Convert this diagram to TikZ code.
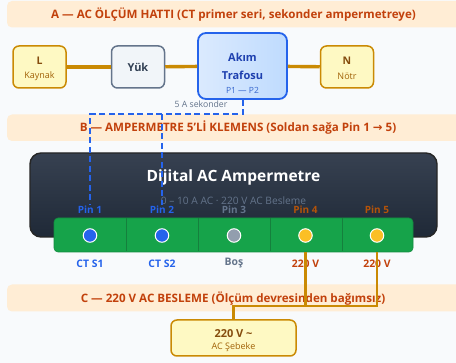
\documentclass[tikz,border=0pt]{standalone}
\usepackage{fontspec}
\setmainfont{Open Sans}
\newfontfamily\symfont{DejaVu Sans}
\definecolor{bgc}{HTML}{F8FAFC}
\definecolor{band}{HTML}{FFEDD5}
\definecolor{bandt}{HTML}{C2410C}
\definecolor{gold}{HTML}{CA8A04}
\definecolor{yfill}{HTML}{FEF9C3}
\definecolor{ytext}{HTML}{854D0E}
\definecolor{ysub}{HTML}{A16207}
\definecolor{blu}{HTML}{2563EB}
\definecolor{slt}{HTML}{64748B}
\definecolor{yukf}{HTML}{F1F5F9}
\definecolor{yukt}{HTML}{334155}
\definecolor{grn}{HTML}{16A34A}
\definecolor{grnd}{HTML}{15803D}
\definecolor{amb}{HTML}{FBBF24}
\definecolor{pino}{HTML}{B45309}
\definecolor{ctt}{HTML}{1E40AF}
\definecolor{ctl}{HTML}{DBEAFE}
\definecolor{ctr}{HTML}{BFDBFE}
\definecolor{dtop}{HTML}{374151}
\definecolor{dbot}{HTML}{1F2937}
\tikzset{
 x=1pt,y=-1pt,
 bandtext/.style={text=bandt,font=\fontsize{11.6}{13}\selectfont\bfseries,inner sep=0pt},
 ybox/.style={draw=gold,line width=1.5pt,fill=yfill,rounded corners=6pt,inner sep=0pt},
 title/.style={font=\fontsize{10.5}{12}\selectfont\bfseries,text=ytext,inner sep=0pt},
 sub/.style={font=\fontsize{9}{11}\selectfont,text=ysub,inner sep=0pt},
 wire/.style={draw=gold,line width=3.4pt},
 wirethin/.style={draw=gold,line width=2.2pt},
 ct/.style={draw=blu,line width=2pt,dash pattern=on 6pt off 3.5pt},
 pinlab/.style={font=\fontsize{10}{12}\selectfont\bfseries,inner sep=0pt},
 botlab/.style={font=\fontsize{10.4}{12}\selectfont\bfseries,inner sep=0pt},
 pindot/.style={circle,draw=white,line width=1pt,minimum size=13.5pt,inner sep=0pt},
 strip/.style={draw=grnd,line width=1pt},
}
\begin{document}
\begin{tikzpicture}
\useasboundingbox (0,0) rectangle (456,363);
\fill[bgc] (0,0) rectangle (456,363);
% bands
\fill[band,rounded corners=5pt] (7,1) rectangle (470,27.5);
\fill[band,rounded corners=5pt] (7,114.5) rectangle (470,141);
\fill[band,rounded corners=5pt] (7,284.5) rectangle (470,311.5);
\node[bandtext] (bandA) at (233.5,15) {A — AC ÖLÇÜM HATTI (CT primer seri, sekonder ampermetreye)};
\node[bandtext] (bandB) at (238,128) {B — AMPERMETRE 5'Lİ KLEMENS (Soldan sağa Pin 1 {\symfont→} 5)};
\node[bandtext] (bandC) at (233,299) {C — 220 V AC BESLEME (Ölçüm devresinden bağımsız)};
% top row
\node[ybox,minimum width=53pt,minimum height=42pt] (L) at (39.5,67) {};
\node[title] (Lt) at (39.5,60.5) {L};
\node[sub] (Ls) at (39.5,76) {Kaynak};
\node[draw=slt,line width=1.5pt,fill=yukf,rounded corners=6pt,minimum width=53pt,minimum height=42pt,inner sep=0pt,
  font=\fontsize{11}{13}\selectfont\bfseries,text=yukt] (Y) at (138,67) {Yük};
\node[draw=blu,line width=1.8pt,left color=ctl,right color=ctr,rounded corners=8pt,minimum width=89pt,minimum height=66pt,inner sep=0pt] (CT) at (242.5,66) {};
\node[font=\fontsize{11}{13}\selectfont\bfseries,text=ctt,inner sep=0pt] (CT1) at (242.5,57) {Akım};
\node[font=\fontsize{11}{13}\selectfont\bfseries,text=ctt,inner sep=0pt] (CT2) at (242.5,75) {Trafosu};
\node[font=\fontsize{8.5}{10}\selectfont,text=blu!70!slt,inner sep=0pt] (CT3) at (242.5,90.5) {P1 — P2};
\node[ybox,minimum width=53pt,minimum height=42pt] (N) at (347,67) {};
\node[title] (Nt) at (347,60.5) {N};
\node[sub] (Ns) at (347,76) {Nötr};
\draw[wire] (L) -- (Y);
\draw[wire] (Y) -- (CT);
\draw[wire] (CT) -- (N);
\node[font=\fontsize{8.7}{10}\selectfont,text=slt,inner sep=0pt] (sek) at (201,104.5) {5 A sekonder};
% display
\node[draw=black!85,line width=1.4pt,top color=dtop,bottom color=dbot,rounded corners=11pt,minimum width=407pt,minimum height=84pt,inner sep=0pt] (D) at (233.5,195) {};
\node[font=\fontsize{15.5}{18}\selectfont\bfseries,text=white,inner sep=0pt] (Dt) at (233.5,177) {Dijital AC Ampermetre};
\node[font=\fontsize{10.2}{12}\selectfont,text=slt,inner sep=0pt] (Ds) at (233.5,201) {0 – 10 A AC · 220 V AC Besleme};
% strip
\node[fill=grn,draw=grn!85!black,line width=.6pt,rounded corners=4pt,minimum width=359pt,minimum height=34pt,inner sep=0pt] (S) at (233.5,235) {};
\foreach \x in {126,198,270,342} \draw[strip] (\x,218.5) -- (\x,251.5);
\node[pindot,fill=blu] (P1) at (90,235.5) {};
\node[pindot,fill=blu] (P2) at (162,235.5) {};
\node[pindot,fill=slt!70] (P3) at (234,235.5) {};
\node[pindot,fill=amb] (P4) at (305.5,235.5) {};
\node[pindot,fill=amb] (P5) at (377,235.5) {};
% supply box
\node[ybox,minimum width=125pt,minimum height=36pt] (AC) at (233.5,338) {};
\node[title,font=\fontsize{11}{13}\selectfont\bfseries] (ACt) at (233.5,334) {220 V \textasciitilde};
\node[sub] (ACs) at (233.5,347) {AC Şebeke};
% wires
\coordinate (cj) at (233.5,306);
\coordinate (ctj) at (242.5,114.5);
\coordinate (ct1) at (90,114.5);
\coordinate (ct2) at (162,114.5);
\coordinate (ct1e) at (90,205);
\coordinate (ct2e) at (162,205);
\draw[ct] (CT.south -| ctj) -- (ctj) -- (ct1) -- (ct1e);
\draw[ct] (ct2) -- (ct2e);
% labels
\node[pinlab,text=blu] at (90,209.5) {Pin 1};
\node[pinlab,text=blu] at (162,209.5) {Pin 2};
\node[pinlab,text=slt] at (234,209.5) {Pin 3};
\node[pinlab,text=pino] at (305.5,209.5) {Pin 4};
\node[pinlab,text=pino] at (377,209.5) {Pin 5};
\node[botlab,text=blu] at (90,263.5) {CT S1};
\node[botlab,text=blu] at (162,263.5) {CT S2};
\node[botlab,text=slt] at (234,263.5) {Boş};
\node[botlab,text=bandt] at (305.5,263.5) {220 V};
\node[botlab,text=bandt] at (377,263.5) {220 V};
\draw[wirethin] (P4.south |- S.south) -- (P4.south |- cj);
\draw[wirethin] (P5.south |- S.south) -- (P5.south |- cj) -- (cj) -- (AC.north);
\end{tikzpicture}
\end{document}
